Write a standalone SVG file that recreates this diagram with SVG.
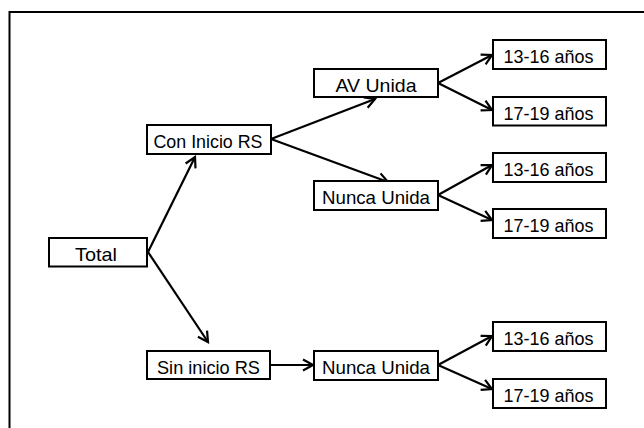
<svg xmlns="http://www.w3.org/2000/svg" width="644" height="428" viewBox="0 0 644 428">
<style>
.box{fill:#fff;stroke:#000;stroke-width:2}
.lbl{font-family:"Liberation Sans",Arial,sans-serif;font-size:19px;fill:#000;text-anchor:middle}
.con{fill:none;stroke:#000;stroke-width:2.2}
</style>
<defs>
<marker id="arr" markerUnits="userSpaceOnUse" markerWidth="14" markerHeight="14" refX="11" refY="7" orient="auto">
<path d="M1,1.5 L11,7 L1,12.5" fill="none" stroke="#000" stroke-width="2.2"/>
</marker>
</defs>
<rect width="644" height="428" fill="#fff"/>
<path d="M9.5,428 V12 H644" fill="none" stroke="#000" stroke-width="2"/>
<g id="connectors">
<line class="con" x1="148" y1="252" x2="195" y2="157" marker-end="url(#arr)"/>
<line class="con" x1="148" y1="252" x2="208" y2="342" marker-end="url(#arr)"/>
<line class="con" x1="271" y1="139" x2="375" y2="99" marker-end="url(#arr)"/>
<line class="con" x1="271" y1="139" x2="388" y2="182" marker-end="url(#arr)"/>
<line class="con" x1="438" y1="83" x2="492" y2="55" marker-end="url(#arr)"/>
<line class="con" x1="438" y1="83" x2="492" y2="110" marker-end="url(#arr)"/>
<line class="con" x1="438" y1="195" x2="492" y2="165" marker-end="url(#arr)"/>
<line class="con" x1="438" y1="195" x2="492" y2="220" marker-end="url(#arr)"/>
<line class="con" x1="270" y1="365" x2="313" y2="365" marker-end="url(#arr)"/>
<line class="con" x1="438" y1="365" x2="492" y2="336" marker-end="url(#arr)"/>
<line class="con" x1="438" y1="365" x2="492" y2="389" marker-end="url(#arr)"/>
</g>
<g id="total"><rect class="box" x="49" y="238" width="98" height="28.5"/><text class="lbl" x="96" y="261" textLength="42" lengthAdjust="spacingAndGlyphs">Total</text></g>
<g id="con-inicio"><rect class="box" x="147" y="125" width="124" height="29"/><text class="lbl" x="208" y="148" textLength="109" lengthAdjust="spacingAndGlyphs">Con Inicio RS</text></g>
<g id="sin-inicio"><rect class="box" x="147" y="351" width="123" height="28"/><text class="lbl" x="208.5" y="374" textLength="103" lengthAdjust="spacingAndGlyphs">Sin inicio RS</text></g>
<g id="av-unida"><rect class="box" x="314" y="69" width="124" height="28"/><text class="lbl" x="376" y="92" textLength="81" lengthAdjust="spacingAndGlyphs">AV Unida</text></g>
<g id="nunca-unida-1"><rect class="box" x="314" y="181" width="124" height="29"/><text class="lbl" x="376" y="204" textLength="108" lengthAdjust="spacingAndGlyphs">Nunca Unida</text></g>
<g id="nunca-unida-2"><rect class="box" x="314" y="351" width="124" height="29"/><text class="lbl" x="376" y="374" textLength="108" lengthAdjust="spacingAndGlyphs">Nunca Unida</text></g>
<g id="av-13-16"><rect class="box" x="493" y="40" width="113" height="29"/><text class="lbl" x="548.5" y="63" textLength="90" lengthAdjust="spacingAndGlyphs">13-16 años</text></g>
<g id="av-17-19"><rect class="box" x="493" y="97" width="113" height="28.5"/><text class="lbl" x="548.5" y="120" textLength="90" lengthAdjust="spacingAndGlyphs">17-19 años</text></g>
<g id="nu1-13-16"><rect class="box" x="493" y="153" width="113" height="29"/><text class="lbl" x="548.5" y="176" textLength="90" lengthAdjust="spacingAndGlyphs">13-16 años</text></g>
<g id="nu1-17-19"><rect class="box" x="493" y="209" width="113" height="29"/><text class="lbl" x="548.5" y="232" textLength="90" lengthAdjust="spacingAndGlyphs">17-19 años</text></g>
<g id="nu2-13-16"><rect class="box" x="493" y="322" width="113" height="29"/><text class="lbl" x="548.5" y="345" textLength="90" lengthAdjust="spacingAndGlyphs">13-16 años</text></g>
<g id="nu2-17-19"><rect class="box" x="493" y="379" width="113" height="29"/><text class="lbl" x="548.5" y="402" textLength="90" lengthAdjust="spacingAndGlyphs">17-19 años</text></g>
</svg>
